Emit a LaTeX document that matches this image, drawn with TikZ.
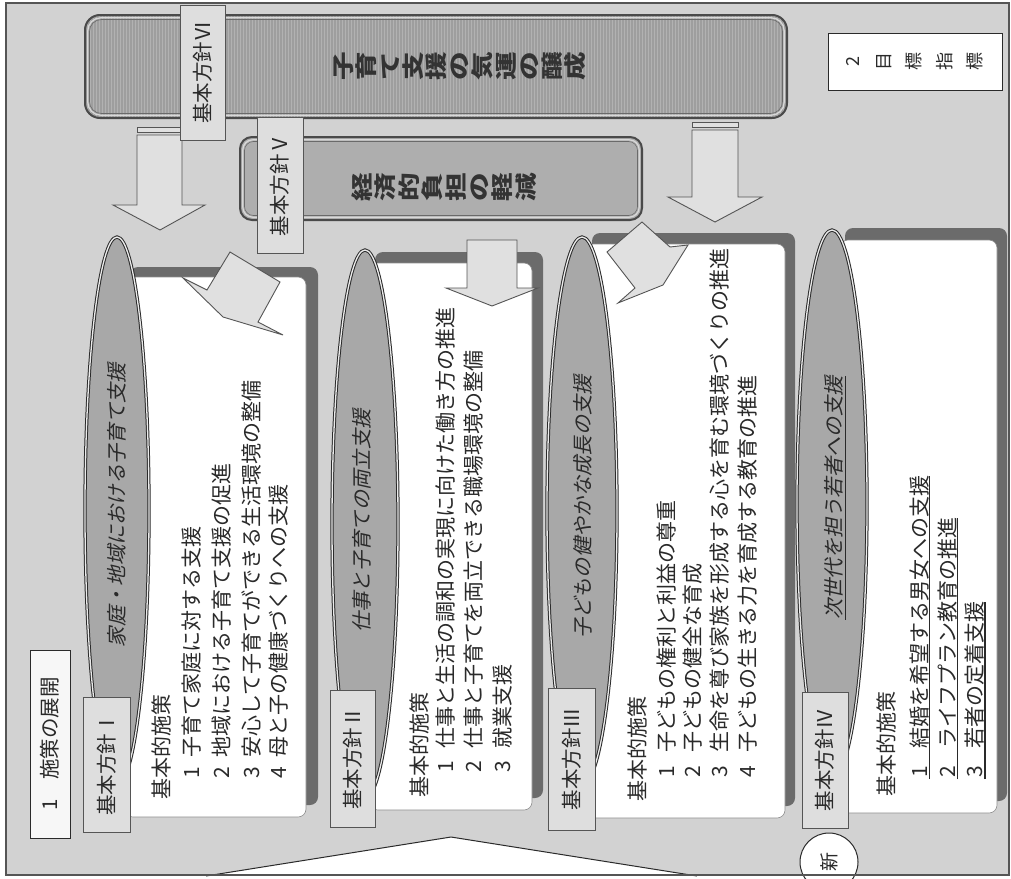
\documentclass[tikz,border=0pt]{standalone}
\usepackage{fontspec}
\setmainfont{Noto Sans CJK JP}
\newfontfamily\jpit[FakeSlant=0.22]{Noto Sans CJK JP}
\newfontfamily\jpwide[FakeStretch=1.3]{Noto Sans CJK JP}
\usetikzlibrary{shapes.geometric,calc,patterns}
\definecolor{bg}{HTML}{D2D2D2}
\definecolor{ink}{HTML}{2A2A2A}
\definecolor{darkbox}{HTML}{9E9E9E}
\definecolor{midbox}{HTML}{AEAEAE}
\definecolor{ellfill}{HTML}{A8A8A8}
\definecolor{shadowc}{HTML}{6B6B6B}
\definecolor{lab}{HTML}{DEDEDE}
\definecolor{arr}{HTML}{E0E0E0}
\definecolor{linec}{HTML}{555555}
\begin{document}
\begin{tikzpicture}[x=1pt,y=-1pt,
  every node/.style={inner sep=0pt, text=ink},
  item/.style={rotate=90, anchor=west, font=\fontsize{21}{24}\selectfont},
  ttl/.style={rotate=90, font=\jpit\fontsize{20.3}{24}\selectfont},
  lbl/.style={rotate=90, fill=lab, draw=linec, line width=0.9pt, font=\fontsize{20.5}{24}\selectfont},
  ell/.style={ellipse, fill=ellfill, draw=ink, line width=1pt, double=white!92!black, double distance=1.3pt},
  arrowshape/.style={fill=arr, draw=linec, line width=0.9pt, line join=miter},
  uline/.style={draw=ink, line width=1.1pt},
  vstack/.style={rotate=90, align=center, text=black!80},
]
\useasboundingbox (0,0) rectangle (1011,878);
% background
\fill[bg] (6,3) rectangle (1009,875);
% bottom wedge
\filldraw[fill=white, draw=ink, line width=1pt] (206,876) -- (451,837) -- (697,876);

% top box (VI)
\fill[darkbox, rounded corners=15pt] (85,15) rectangle (787,118);
\fill[pattern=vertical lines, pattern color=black!30, rounded corners=15pt] (85,15) rectangle (787,118);
\draw[ink!85, line width=2pt, rounded corners=15pt] (85,15) rectangle (787,118);
\draw[white!85!black, line width=1.2pt, rounded corners=13pt] (87.8,17.8) rectangle (784.2,115.2);
\draw[ink!70, line width=0.6pt, rounded corners=12pt] (89.5,19.5) rectangle (782.5,113.5);
\node[vstack, font=\jpwide\bfseries\fontsize{22}{23.2}\selectfont] (t6) at (460,66) {子\\育\\て\\支\\援\\の\\気\\運\\の\\醸\\成};

% second box (V)
\fill[midbox, rounded corners=12pt] (240,137) rectangle (642,220);
\draw[ink!85, line width=2pt, rounded corners=12pt] (240,137) rectangle (642,220);
\draw[white!85!black, line width=1.2pt, rounded corners=10pt] (242.8,139.8) rectangle (639.2,217.2);
\draw[ink!70, line width=0.6pt, rounded corners=9pt] (244.5,141.5) rectangle (637.5,215.5);
\node[vstack, font=\jpwide\bfseries\fontsize{22}{23.4}\selectfont] (t5) at (444,187) {経\\済\\的\\負\\担\\の\\軽\\減};

% vertical arrows from top box
\filldraw[arrowshape] (137,127) rectangle (182,132);
\filldraw[arrowshape] (137,135) -- (182,135) -- (182,205) -- (205,205) -- (160,230) -- (113,205) -- (137,205) -- cycle;
\filldraw[arrowshape] (692,122) rectangle (738,127);
\filldraw[arrowshape] (692,130) -- (738,130) -- (738,197) -- (762,197) -- (715,222) -- (668,197) -- (692,197) -- cycle;

% cards
\fill[shadowc, rounded corners=8pt] (130,267) rectangle (318,805);
\filldraw[fill=white, draw=black!45, line width=0.6pt, rounded corners=8pt] (125,277) rectangle (306,817);
\fill[shadowc, rounded corners=8pt] (375,252) rectangle (543,798);
\filldraw[fill=white, draw=black!45, line width=0.6pt, rounded corners=8pt] (370,263) rectangle (532,810);
\fill[shadowc, rounded corners=8pt] (592,233) rectangle (795,806);
\filldraw[fill=white, draw=black!45, line width=0.6pt, rounded corners=8pt] (585,244) rectangle (785,818);
\fill[shadowc, rounded corners=8pt] (845,228) rectangle (1007,801);
\filldraw[fill=white, draw=black!45, line width=0.6pt, rounded corners=8pt] (840,240) rectangle (997,813);

% arrows from second box
\filldraw[arrowshape] (467,240) -- (517,240) -- (517,288) -- (538,288) -- (492,306) -- (446,288) -- (467,288) -- cycle;
\filldraw[arrowshape] (230,252) -- (280,282) -- (258,322) -- (283,335) -- (223,317) -- (183,278) -- (207,290) -- cycle;
\filldraw[arrowshape] (642,222) -- (670,247) -- (688,245) -- (663,285) -- (618,303) -- (635,288) -- (607,252) -- cycle;

% ellipses
\node[ell, minimum width=64pt, minimum height=548pt] (e1) at (117,511) {};
\node[ell, minimum width=66pt, minimum height=548pt] (e2) at (365,524) {};
\node[ell, minimum width=70pt, minimum height=548pt] (e3) at (582,511) {};
\node[ell, minimum width=70pt, minimum height=548pt] (e4) at (832,504) {};
\node[ttl] (h1) at (117,505) {家庭・地域における子育て支援};
\node[ttl] (h2) at (362,521) {仕事と子育ての両立支援};
\node[ttl] (h3) at (583,507) {子どもの健やかな成長の支援};
\node[ttl] (h4) at (835,498) {\underline{次世代を担う若者への支援}};

% labels
\node[lbl, minimum width=135pt, minimum height=47pt] (k1) at (106.5,764.5) {基本方針Ⅰ};
\node[lbl, minimum width=137pt, minimum height=45pt] (k2) at (352.5,758.5) {基本方針Ⅱ};
\node[lbl, minimum width=142pt, minimum height=47pt] (k3) at (571.5,759) {基本方針Ⅲ};
\node[lbl, minimum width=136pt, minimum height=46pt] (k4) at (825,760) {基本方針Ⅳ};
\node[lbl, minimum width=135pt, minimum height=45pt] (k6) at (202.5,72.5) {基本方針Ⅵ};
\node[lbl, minimum width=136pt, minimum height=46pt] (k5) at (280,185) {基本方針Ⅴ};

% column I
\node[item] (a0) at (161,800) {基本的施策};
\node[item] (a1) at (192,788) {\makebox[30pt][c]{1}子育て家庭に対する支援};
\node[item] (a2) at (222,788) {\makebox[30pt][c]{2}地域における子育て支援の促進};
\node[item] (a3) at (251,788) {\makebox[30pt][c]{3}安心して子育てができる生活環境の整備};
\node[item] (a4) at (279,788) {\makebox[30pt][c]{4}母と子の健康づくりへの支援};
% column II
\node[item] (b0) at (419,798) {基本的施策};
\node[item] (b1) at (446,785) {\makebox[36pt][c]{1}仕事と生活の調和の実現に向けた働き方の推進};
\node[item] (b2) at (474,785) {\makebox[36pt][c]{2}仕事と子育てを両立できる職場環境の整備};
\node[item] (b3) at (503,785) {\makebox[36pt][c]{3}就業支援};
% column III
\node[item] (c0) at (637,802) {基本的施策};
\node[item] (c1) at (666,791) {\makebox[38pt][c]{1}子どもの権利と利益の尊重};
\node[item] (c2) at (693,791) {\makebox[38pt][c]{2}子どもの健全な育成};
\node[item] (c3) at (720,791) {\makebox[38pt][c]{3}生命を尊び家族を形成する心を育む環境づくりの推進};
\node[item] (c4) at (748,791) {\makebox[38pt][c]{4}子どもの生きる力を育成する教育の推進};
% column IV
\node[item] (d0) at (886,797) {基本的施策};
\node[item] (d1) at (920,795) {\makebox[46pt][c]{1}結婚を希望する男女への支援};
\node[item] (d2) at (948,795) {\makebox[46pt][c]{2}ライフプラン教育の推進};
\node[item] (d3) at (975,795) {\makebox[46pt][c]{3}若者の定着支援};
\draw[uline] ($(d1.south west)+(0,-16)$) -- (d1.south east);
\draw[uline] ($(d2.south west)+(0,-16)$) -- (d2.south east);
\draw[uline] ($(d3.south west)+(0,-16)$) -- (d3.south east);

% headings
\node[rotate=90, draw=ink, fill=white!97!black, line width=0.9pt, minimum width=188pt, minimum height=40pt, font=\fontsize{20.5}{24}\selectfont] (s1) at (50,744) {1\hspace{20pt}施策の展開};
\node[rotate=90, draw=ink, fill=white, line width=1pt, minimum width=57pt, minimum height=174pt, align=center, font=\fontsize{18}{30.5}\selectfont] (goal) at (915,61.5) {2\\目\\標\\指\\標};
\node[circle, draw=ink, fill=white, line width=1pt, minimum size=58pt, rotate=90, font=\fontsize{19}{20}\selectfont] (new) at (829,862) {新};

% frame
\draw[ink!80, line width=1.3pt] (6,3) rectangle (1009,875);
\end{tikzpicture}
\end{document}
